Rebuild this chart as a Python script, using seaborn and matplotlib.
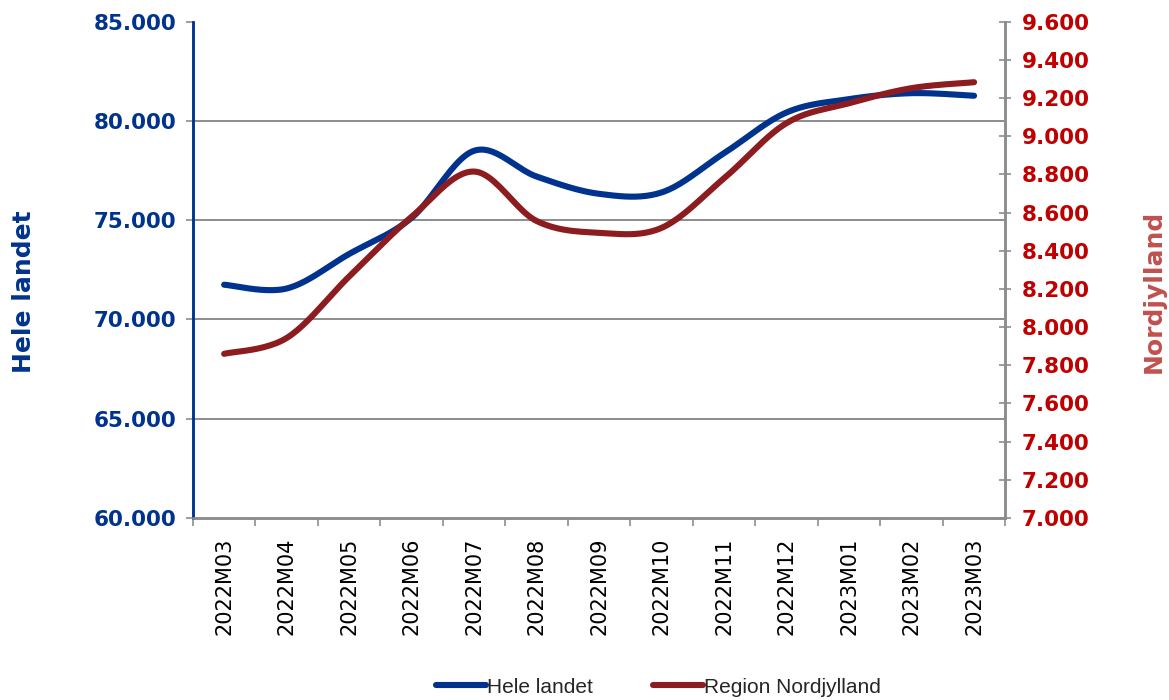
import numpy as np
import pandas as pd
import matplotlib
matplotlib.use("Agg")
import matplotlib.pyplot as plt
import seaborn as sns
from matplotlib.ticker import FuncFormatter, MultipleLocator, FixedLocator

months = ["2022M03", "2022M04", "2022M05", "2022M06", "2022M07", "2022M08", "2022M09",
          "2022M10", "2022M11", "2022M12", "2023M01", "2023M02", "2023M03"]
hele_landet = [71750, 71560, 73300, 75120, 78500, 77200, 76330,
               76400, 78380, 80430, 81100, 81400, 81270]
nordjylland = [7860, 7943, 8265, 8578, 8815, 8556, 8494,
               8520, 8780, 9069, 9173, 9252, 9283]

BLUE = "#00338D"
RED_LINE = "#8C1C20"
RED_TICK = "#C00000"
RED_LABEL = "#C0504D"
GRID = "#8C8C8C"


def smooth(values, steps=24):
    # Catmull-Rom curve through the points, like Excel's smoothed line
    y = np.asarray(values, dtype=float)
    x = np.arange(len(y), dtype=float)
    px = np.concatenate([[x[0]], x, [x[-1]]])
    py = np.concatenate([[y[0]], y, [y[-1]]])
    xs, ys = [], []
    for i in range(1, len(px) - 2):
        t = np.linspace(0, 1, steps, endpoint=False)
        for arr, out in ((px, xs), (py, ys)):
            p0, p1, p2, p3 = arr[i - 1], arr[i], arr[i + 1], arr[i + 2]
            out.append(0.5 * (2 * p1 + (-p0 + p2) * t
                              + (2 * p0 - 5 * p1 + 4 * p2 - p3) * t ** 2
                              + (-p0 + 3 * p1 - 3 * p2 + p3) * t ** 3))
    xs.append(np.array([x[-1]]))
    ys.append(np.array([y[-1]]))
    return np.concatenate(xs), np.concatenate(ys)


def dk(v, pos):
    return f"{v:,.0f}".replace(",", ".")


def main():
    sns.set_theme(style="white")
    plt.rcParams["font.family"] = ["DejaVu Sans"]

    fig = plt.figure(figsize=(11.69, 7), dpi=100)
    ax = fig.add_axes([0.165, 0.26, 0.695, 0.709])
    ax2 = ax.twinx()

    bx, by = smooth(hele_landet)
    rx, ry = smooth(nordjylland)
    df_b = pd.DataFrame({"x": bx, "y": by})
    df_r = pd.DataFrame({"x": rx, "y": ry})

    sns.lineplot(data=df_b, x="x", y="y", ax=ax, color=BLUE, linewidth=4.4,
                 sort=False, estimator=None, label="Hele landet", legend=False,
                 solid_capstyle="round")
    sns.lineplot(data=df_r, x="x", y="y", ax=ax2, color=RED_LINE, linewidth=4.4,
                 sort=False, estimator=None, label="Region Nordjylland", legend=False,
                 solid_capstyle="round")
    ax2.set_zorder(ax.get_zorder() + 1)
    ax2.patch.set_visible(False)

    ax.set_xlim(-0.5, len(months) - 0.5)
    ax.set_ylim(60000, 85000)
    ax2.set_ylim(7000, 9600)

    # left axis, gridlines only between the limits
    ax.yaxis.set_major_locator(MultipleLocator(5000))
    ax.yaxis.set_major_formatter(FuncFormatter(dk))
    ax.grid(False)
    for g in (65000, 70000, 75000, 80000):
        ax.axhline(g, color=GRID, linewidth=1.4, zorder=0)
    ax.tick_params(axis="y", colors=GRID, labelcolor=BLUE, labelsize=15.5,
                   length=5, width=1.2, direction="out", pad=7, left=True)
    for lab in ax.get_yticklabels():
        lab.set_fontweight("bold")
    ax.set_ylabel("Hele landet", color=BLUE, fontsize=18, fontweight="bold")
    ax.yaxis.set_label_coords(-0.193, 0.456)

    # right axis
    ax2.yaxis.set_major_locator(MultipleLocator(200))
    ax2.yaxis.set_major_formatter(FuncFormatter(dk))
    ax2.grid(False)
    ax2.tick_params(axis="y", colors=GRID, labelcolor=RED_TICK, labelsize=15.5,
                    length=8, width=1.2, direction="inout", pad=8, right=True)
    for lab in ax2.get_yticklabels():
        lab.set_fontweight("bold")
    ax2.set_ylabel("Nordjylland", color=RED_LABEL, fontsize=18, fontweight="bold")
    ax2.yaxis.set_label_coords(1.168, 0.456)

    # x axis: labels at centres, ticks at category boundaries
    ax.set_xticks(range(len(months)))
    ax.set_xticklabels(months, rotation=90, fontsize=15, color="black")
    ax.xaxis.set_minor_locator(FixedLocator(np.arange(-0.5, len(months), 1.0)))
    ax.tick_params(axis="x", which="major", length=0, pad=14)
    ax.tick_params(axis="x", which="minor", length=6, width=1.2, color=GRID,
                   direction="out", bottom=True)
    ax.set_xlabel("")

    for a in (ax, ax2):
        a.spines["top"].set_visible(False)
        a.spines["left"].set_color(BLUE)
        a.spines["left"].set_linewidth(1.8)
        a.spines["right"].set_color(GRID)
        a.spines["right"].set_linewidth(1.8)
        a.spines["bottom"].set_color(GRID)
        a.spines["bottom"].set_linewidth(1.8)

    h1, l1 = ax.get_legend_handles_labels()
    h2, l2 = ax2.get_legend_handles_labels()
    fig.legend(h1 + h2, l1 + l2, loc="lower center", bbox_to_anchor=(0.563, -0.022),
               ncol=2, frameon=False, handlelength=2.4,
               handletextpad=0.05, columnspacing=2.9,
               prop={"family": "Liberation Sans", "size": 15})

    fig.savefig("out.png", dpi=100)
    plt.close(fig)


if __name__ == "__main__":
    main()
